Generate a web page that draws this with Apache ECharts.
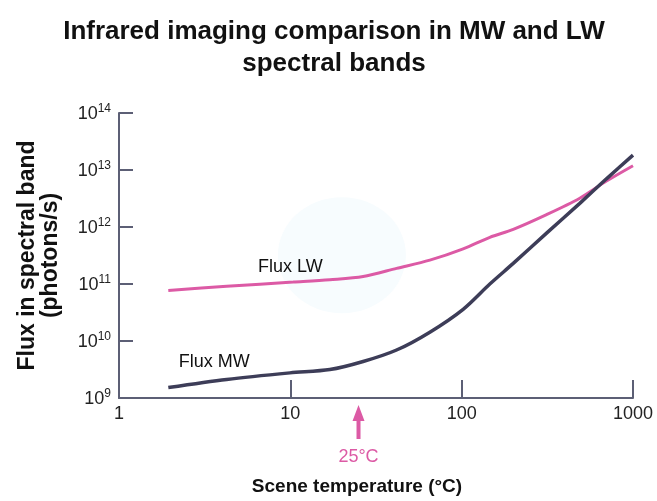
<!DOCTYPE html>
<html>
<head>
<meta charset="utf-8">
<script src="https://cdn.jsdelivr.net/npm/echarts@6/dist/echarts.min.js"></script>
<style>html,body{margin:0;padding:0;background:#fff}#c{width:657px;height:501px}</style>
</head>
<body>
<div id="c"></div>
<script>
const titleText = 'Infrared imaging comparison in MW and LW\nspectral bands';
const xAxisName = 'Scene temperature (°C)';
const yAxisName = 'Flux in spectral band\n(photons/s)';
const xTicks = [1, 10, 100, 1000];
const yExponents = [9, 10, 11, 12, 13, 14];

const lwTemps = [1.94, 4.25, 10.4, 17, 26.6, 41.7, 65.2, 102, 146, 200, 313, 489, 700, 1000];
const lwFlux  = [7.7e10, 9.1e10, 1.08e11, 1.19e11, 1.35e11, 1.88e11, 2.62e11, 4.14e11, 6.6e11, 9.1e11, 1.65e12, 3.2e12, 6.4e12, 1.19e13];
const mwTemps = [1.94, 4.25, 9.95, 17, 26.6, 41.7, 65.2, 102, 146, 200, 313, 489, 700, 1000];
const mwFlux  = [1.53e9, 2.12e9, 2.76e9, 3.15e9, 4.37e9, 6.95e9, 1.43e10, 3.6e10, 1.0e11, 2.3e11, 7.8e11, 2.6e12, 7.0e12, 1.82e13];

const annotations = [
  {name: 'Flux LW', coord: [10, 2.0e11]},
  {name: 'Flux MW', coord: [3.6, 4.3e9]}
];
const markerTemp = 25;
const markerText = '25°C';

const pink = '#dc5aa5';
const dark = '#3d3d58';
const axisCol = '#5c5f75';

const chart = echarts.init(document.getElementById('c'));
const zip = (a, b) => a.map((v, i) => [v, b[i]]);
const annLabel = {show: true, formatter: p => p.name, fontFamily: 'Liberation Sans', fontSize: 18, color: '#111', position: 'inside'};

chart.setOption({
  animation: false,
  backgroundColor: '#fff',
  title: {
    text: titleText,
    left: 329, top: 11, textAlign: 'center',
    textStyle: {fontFamily: 'Liberation Sans', fontWeight: 'bold', fontSize: 26, lineHeight: 32, color: '#111'}
  },
  grid: {left: 119, right: 24, top: 113, bottom: 97},
  xAxis: {
    type: 'log', logBase: 10, min: 1, max: 1000,
    name: xAxisName, nameLocation: 'middle', nameGap: 79,
    nameTextStyle: {fontFamily: 'Liberation Sans', fontWeight: 'bold', fontSize: 19, color: '#111', padding: [0, 38, 0, 0]},
    axisLine: {lineStyle: {color: axisCol, width: 2}},
    axisTick: {inside: true, length: 18, lineStyle: {color: axisCol, width: 2}},
    splitLine: {show: false},
    axisLabel: {fontFamily: 'Liberation Sans', fontSize: 18, color: '#222', margin: 7,
      formatter: v => String(Math.round(v))}
  },
  yAxis: {
    type: 'log', logBase: 10, min: 1e9, max: 1e14,
    name: yAxisName, nameLocation: 'middle', nameGap: 57, nameRotate: 90,
    nameTextStyle: {fontFamily: 'Liberation Sans', fontWeight: 'bold', fontSize: 23, lineHeight: 23, color: '#111'},
    axisLine: {lineStyle: {color: axisCol, width: 2}},
    axisTick: {inside: true, length: 14, lineStyle: {color: axisCol, width: 2}},
    splitLine: {show: false},
    axisLabel: {
      margin: 8,
      formatter: v => '{b|10}{s|' + Math.round(Math.log10(v)) + '}',
      rich: {
        b: {fontFamily: 'Liberation Sans', fontSize: 18, color: '#222', verticalAlign: 'bottom'},
        s: {fontFamily: 'Liberation Sans', fontSize: 12, color: '#222', verticalAlign: 'top', padding: [0, 0, 8, 0]}
      }
    }
  },
  series: [
    {
      name: 'Flux LW', type: 'line', smooth: 0.3, symbol: 'none', z: 3,
      data: zip(lwTemps, lwFlux),
      lineStyle: {color: pink, width: 3},
      markPoint: {
        symbol: 'circle', symbolSize: 2, itemStyle: {color: 'rgba(0,0,0,0)'},
        data: [{coord: annotations[0].coord, name: annotations[0].name}],
        label: annLabel
      }
    },
    {
      name: 'Flux MW', type: 'line', smooth: 0.3, symbol: 'none', z: 4,
      data: zip(mwTemps, mwFlux),
      lineStyle: {color: dark, width: 3.5},
      markPoint: {
        symbol: 'circle', symbolSize: 2, itemStyle: {color: 'rgba(0,0,0,0)'},
        data: [{coord: annotations[1].coord, name: annotations[1].name}],
        label: annLabel
      }
    }
  ]
});

const px = chart.convertToPixel({xAxisIndex: 0}, markerTemp);
const axisY = chart.convertToPixel({yAxisIndex: 0}, 1e9);
chart.setOption({
  graphic: [
    {type: 'ellipse', z: -1, silent: true,
     shape: {cx: chart.convertToPixel({xAxisIndex: 0}, 20), cy: chart.convertToPixel({yAxisIndex: 0}, 3.2e11), rx: 64, ry: 58},
     style: {fill: '#f7fcfe'}},
    {type: 'polygon', shape: {points: [
      [px, axisY + 7], [px + 6, axisY + 23], [px + 2, axisY + 23], [px + 2, axisY + 41],
      [px - 2, axisY + 41], [px - 2, axisY + 23], [px - 6, axisY + 23]]},
     style: {fill: pink}},
    {type: 'text', x: px, y: axisY + 59,
     style: {text: markerText, fill: pink, font: '18px "Liberation Sans"', textAlign: 'center', textVerticalAlign: 'middle'}}
  ]
});
</script>
</body>
</html>
